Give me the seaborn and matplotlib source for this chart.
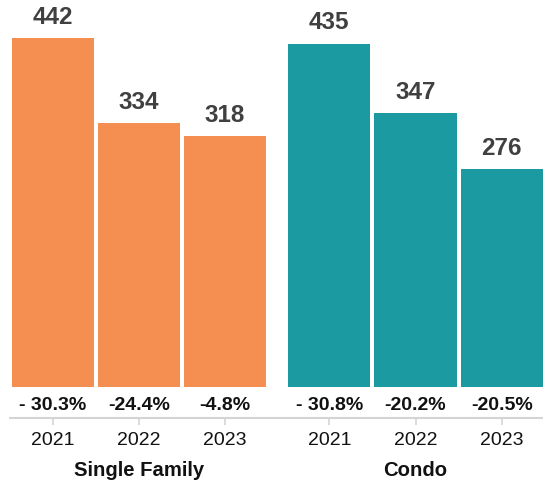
import matplotlib
matplotlib.use("Agg")
import matplotlib.pyplot as plt
import matplotlib.transforms as mtransforms
import seaborn as sns
import pandas as pd

groups = ["Single Family", "Single Family", "Single Family", "Condo", "Condo", "Condo"]
years = ["2021", "2022", "2023", "2021", "2022", "2023"]
values = [442, 334, 318, 435, 347, 276]
changes = ["- 30.3%", "-24.4%", "-4.8%", "- 30.8%", "-20.2%", "-20.5%"]
group_names = ["Single Family", "Condo"]
colors = {"Single Family": "#F58E51", "Condo": "#1B9AA2"}
positions = [0, 1, 2, 3.21, 4.21, 5.21]

df = pd.DataFrame({"pos": positions, "value": values, "group": groups})

sns.set_style("white")
plt.rcParams["font.family"] = ["Liberation Sans", "DejaVu Sans"]

fig = plt.figure(figsize=(5.43, 4.84), dpi=100)
ax = fig.add_axes([10 / 543, 66 / 484, 533 / 543, 418 / 484])

sns.barplot(data=df, x="pos", y="value", hue="group", palette=colors,
            native_scale=True, dodge=False, width=0.955, saturation=1,
            linewidth=0, legend=False, ax=ax)

ax.set_xlim(-0.497, 5.69)
ax.set_ylim(-39.8, 490.6)

for p, v, c in zip(positions, values, changes):
    ax.annotate(str(v), (p, v), xytext=(0, 15), textcoords="offset points",
                ha="center", va="center", fontsize=17.5, fontweight="bold",
                color="#404040")
    ax.text(p, -23.4, c, ha="center", va="center", fontsize=14,
            fontweight="bold", color="#111111")

ax.set_xticks(positions)
ax.set_xticklabels(years, fontsize=14, color="#111111")
ax.set_yticks([])
ax.set_xlabel("")
ax.set_ylabel("")
ax.tick_params(axis="x", length=5, width=1.2, color="#d4d4d4", pad=5, bottom=True)
for s in ["top", "right", "left"]:
    ax.spines[s].set_visible(False)
ax.spines["bottom"].set_color("#d4d4d4")
ax.spines["bottom"].set_linewidth(1.5)

trans = mtransforms.blended_transform_factory(ax.transData, fig.transFigure)
ax.text(1, 1 - 470 / 484, group_names[0], transform=trans, ha="center", va="center",
        fontsize=14.6, fontweight="bold", color="#111111")
ax.text(4.21, 1 - 470 / 484, group_names[1], transform=trans, ha="center", va="center",
        fontsize=14.6, fontweight="bold", color="#111111")

fig.savefig("out.png", dpi=100)
